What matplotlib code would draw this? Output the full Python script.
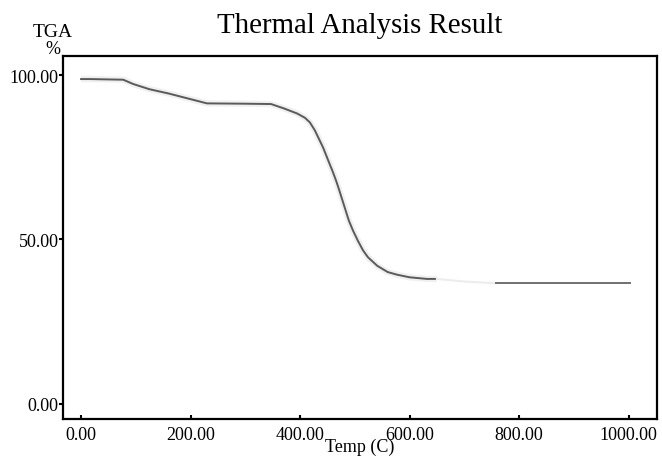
import matplotlib.pyplot as plt

plt.rcParams["font.family"] = ["Liberation Serif", "DejaVu Serif"]

# TGA curve
temp = [0, 16, 77, 95, 125, 160, 195, 230, 300, 347, 370, 395, 409, 418,
        427, 442, 453, 460, 466, 471, 482, 489, 497, 506, 515, 524, 541,
        560, 577, 600, 632, 650]
tga = [98.8, 98.8, 98.6, 97.3, 95.7, 94.4, 92.9, 91.4, 91.3, 91.2, 89.9,
       88.3, 87.0, 85.6, 83.2, 78.0, 73.4, 70.5, 67.8, 65.3, 59.5, 55.8,
       52.6, 49.5, 46.7, 44.6, 42.0, 40.1, 39.3, 38.5, 38.0, 38.0]
# faint stretch between the two parts
temp_gap = [650, 700, 758]
tga_gap = [38.0, 37.2, 36.7]
# flat tail
temp_tail = [758, 1003]
tga_tail = [36.7, 36.7]

xticks = [0, 200, 400, 600, 800, 1000]
yticks = [0, 50, 100]

fig = plt.figure(figsize=(6.62, 4.60), dpi=100)
ax = fig.add_axes([0.0952, 0.087, 0.8972, 0.789])

# soft halo then the line itself
ax.plot(temp, tga, color="#f0f0f0", lw=4.5, solid_capstyle="butt")
ax.plot(temp, tga, color="#5a5a5a", lw=1.4)
ax.plot(temp_gap, tga_gap, color="#ececec", lw=1.5)
ax.plot(temp_tail, tga_tail, color="#707070", lw=1.4)

ax.set_xlim(-33, 1052)
ax.set_ylim(-4.6, 105.8)
ax.set_xticks(xticks)
ax.set_xticklabels([f"{v:.2f}" for v in xticks])
ax.set_yticks(yticks)
ax.set_yticklabels([f"{v:.2f}" for v in yticks])

ax.tick_params(axis="x", direction="in", length=3, width=1.5, pad=5, labelsize=13)
ax.tick_params(axis="y", direction="out", length=3, width=1.5, pad=0, labelsize=13)
for s in ax.spines.values():
    s.set_linewidth(1.6)

ax.set_title("Thermal Analysis Result", fontsize=20.8, pad=17)
ax.set_xlabel("Temp (C)", fontsize=13, labelpad=-4)
fig.text(0.079, 0.93, "TGA", ha="center", va="center", fontsize=14)
fig.text(0.080, 0.893, "%", ha="center", va="center", fontsize=13)

fig.savefig("out.png", dpi=100)
